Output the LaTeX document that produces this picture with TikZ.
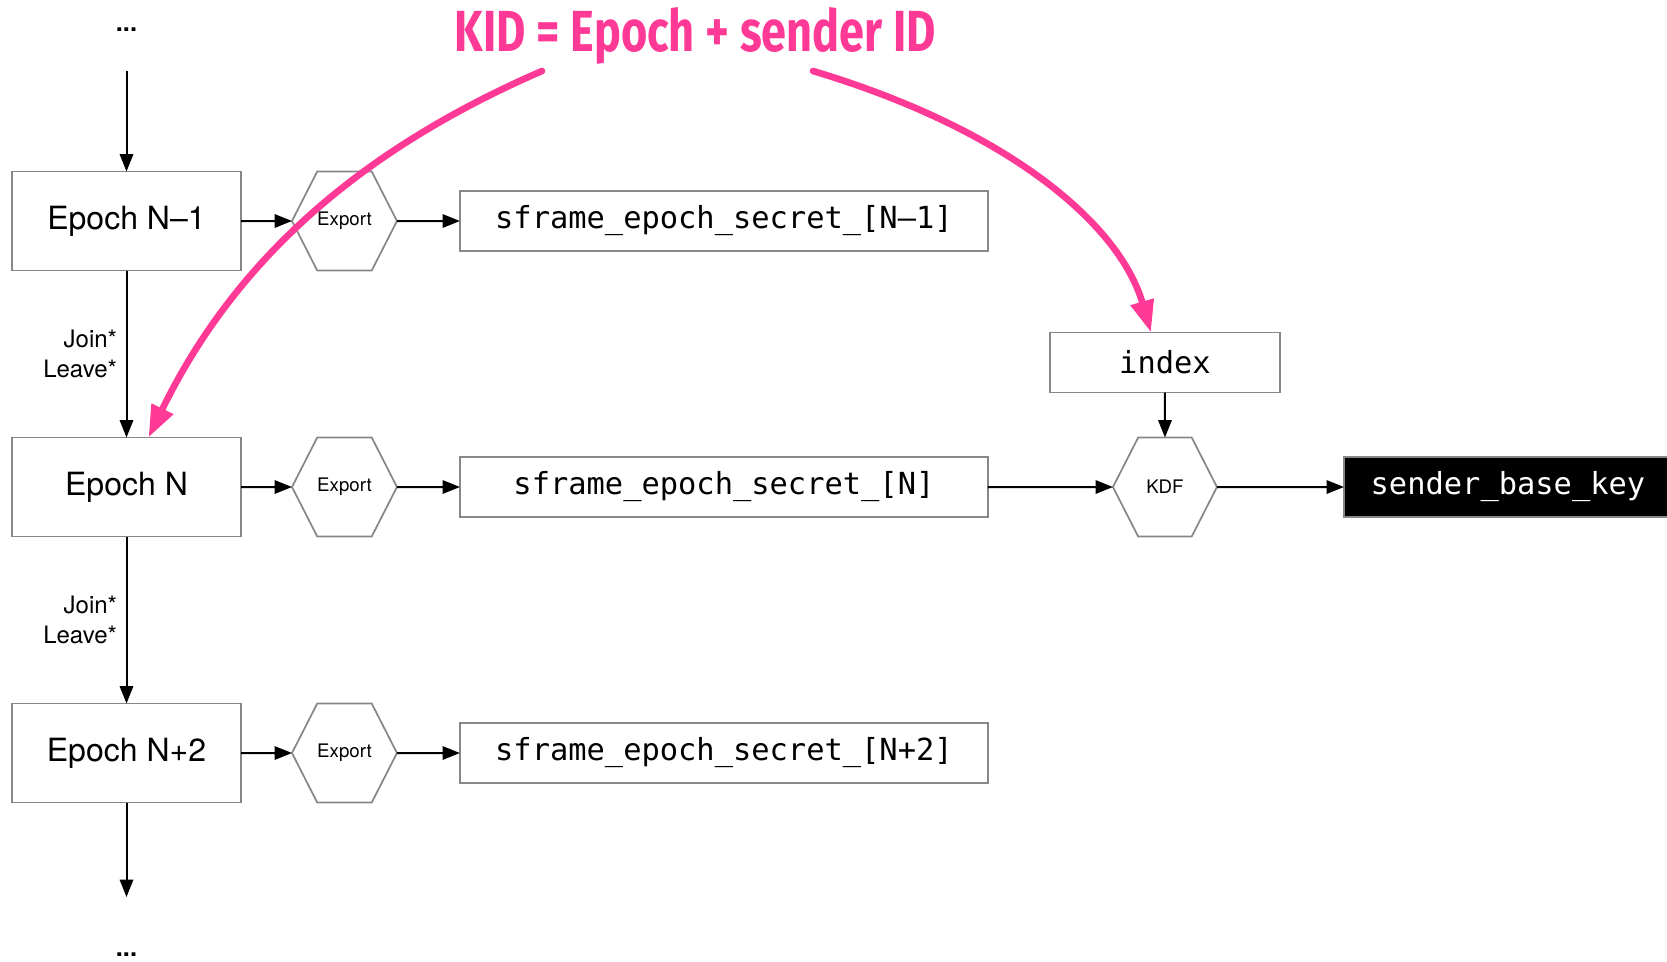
\documentclass[tikz,border=0pt]{standalone}
\usepackage{fontspec}
\usepackage{graphicx}
\setmainfont{TeX Gyre Heros}
\newfontfamily\codefont{DejaVu Sans Mono}
\newfontfamily\kidfont{Fira Sans}
\usetikzlibrary{positioning, arrows.meta, shapes.symbols}
\definecolor{boxgray}{RGB}{135,135,135}
\definecolor{kidpink}{RGB}{255,58,150}

\begin{document}
\begin{tikzpicture}[
    x=0.75pt, y=-0.75pt,
    node distance=125.25pt and 38.25pt,
    epoch/.style={draw=boxgray, line width=1.3pt, minimum width=171.75pt,
      minimum height=74.25pt, inner sep=0pt, outer sep=0pt,
      font=\fontsize{24pt}{28pt}\selectfont},
    hexa/.style={draw=boxgray, line width=1.3pt, signal, signal to=east and west,
      signal pointer angle=126, minimum width=78pt, minimum height=74.25pt,
      inner sep=0pt, outer sep=0pt, font=\fontsize{14pt}{16pt}\selectfont},
    secret/.style={draw=boxgray, line width=1.3pt, minimum width=396pt,
      minimum height=45pt, inner sep=0pt, outer sep=0pt,
      font=\codefont\fontsize{22.8pt}{27pt}\selectfont},
    arr/.style={-{Triangle[length=13pt, width=10pt]}, line width=1.5pt},
    kidarr/.style={-{Triangle[length=24pt, width=17pt]}, line width=5pt,
      line cap=round, kidpink},
    lbl/.style={font=\fontsize{18pt}{22.5pt}\selectfont, align=right},
    dots/.style={font=\bfseries\fontsize{19pt}{22pt}\selectfont}
  ]
  \useasboundingbox (0,0) rectangle (1667,961);

  % epochs and their exported secrets
  \node[epoch] (eprev) at (126.5,221) {Epoch N\textendash1};
  \node[epoch, below=of eprev] (ecur) {Epoch N};
  \node[epoch, below=of ecur] (enext) {Epoch N+2};
  \node[hexa, right=of eprev] (xprev) {Export};
  \node[hexa, right=of ecur] (xcur) {Export};
  \node[hexa, right=of enext] (xnext) {Export};
  \node[secret, right=47.25pt of xprev] (sprev) {sframe\_epoch\_secret\_[N\textendash1]};
  \node[secret, right=47.25pt of xcur] (scur) {sframe\_epoch\_secret\_[N]};
  \node[secret, right=47.25pt of xnext] (snext) {sframe\_epoch\_secret\_[N+2]};

  % key derivation
  \node[hexa, right=93.75pt of scur] (kdf) {KDF};
  \node[secret, above=33.75pt of kdf, minimum width=172.5pt] (idx) {index};
  \node[secret, right=95.25pt of kdf, minimum width=246pt, fill=black,
    text=white] (sbk) {sender\_base\_key};

  \node[dots] (dtop) at (126.5,30) {...};
  \node[dots] (dbot) at (126.5,955) {...};
  \coordinate (ttop) at (126.5,71);
  \coordinate (tbot) at (126.5,897);

  \draw[arr] (ttop) -- (eprev);
  \draw[arr] (eprev) -- (ecur) node[midway, left=3pt, lbl] {Join*\\Leave*};
  \draw[arr] (ecur) -- (enext) node[midway, left=3pt, lbl] {Join*\\Leave*};
  \draw[arr] (enext) -- (tbot);
  \draw[arr] (eprev) -- (xprev);
  \draw[arr] (ecur) -- (xcur);
  \draw[arr] (enext) -- (xnext);
  \draw[arr] (xprev) -- (sprev);
  \draw[arr] (xcur) -- (scur);
  \draw[arr] (xnext) -- (snext);
  \draw[arr] (scur) -- (kdf);
  \draw[arr] (idx) -- (kdf);
  \draw[arr] (kdf) -- (sbk);

  % KID annotation
  \node[kidpink, anchor=base, inner sep=0pt] (kid) at (695.5,51)
    {\resizebox{360.75pt}{33pt}{\kidfont\bfseries KID = Epoch + sender ID}};
  \coordinate (kidl) at (542,71);
  \coordinate (kidr) at (813,71);
  \draw[kidarr] (kidl) .. controls (360,150) and (235,260) .. ([xshift=16.5pt]ecur.north);
  \draw[kidarr] (kidr) .. controls (1010,130) and (1120,225) .. ([xshift=-10.5pt]idx.north);
\end{tikzpicture}
\end{document}
